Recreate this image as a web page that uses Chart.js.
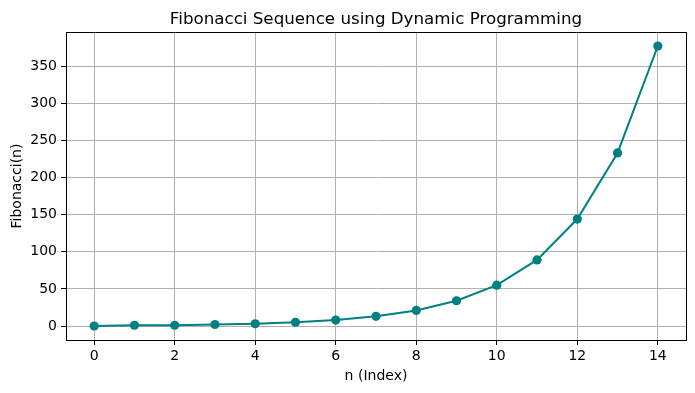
<!DOCTYPE html>
<html>
<head>
<meta charset="utf-8">
<script src="https://cdn.jsdelivr.net/npm/chart.js@4/dist/chart.umd.min.js"></script>
<style>
  html, body { margin: 0; padding: 0; background: #fff; }
  #wrap { width: 695px; height: 393px; }
</style>
</head>
<body>
<div id="wrap"><canvas id="fibChart" width="695" height="393"></canvas></div>
<script>
// data
const nIndex = [0, 1, 2, 3, 4, 5, 6, 7, 8, 9, 10, 11, 12, 13, 14];
const fibValues = [0, 1, 1, 2, 3, 5, 8, 13, 21, 34, 55, 89, 144, 233, 377];
const xTicks = [0, 2, 4, 6, 8, 10, 12, 14];
const yTicks = [0, 50, 100, 150, 200, 250, 300, 350];

const titleText = "Fibonacci Sequence using Dynamic Programming";
const xLabel = "n (Index)";
const yLabel = "Fibonacci(n)";

const fontFam = "'DejaVu Sans', sans-serif";

// kotak hitam + judul di tengah area plot (gaya matplotlib)
const framePlugin = {
  id: "frame",
  afterDraw(chart) {
    const a = chart.chartArea;
    const ctx = chart.ctx;
    ctx.save();
    ctx.strokeStyle = "#000";
    ctx.lineWidth = 1;
    ctx.strokeRect(Math.round(a.left) + 0.5, Math.round(a.top) + 0.5,
                   Math.round(a.right - a.left), Math.round(a.bottom - a.top));
    ctx.fillStyle = "#000";
    ctx.font = "16.7px " + fontFam;
    ctx.textAlign = "center";
    ctx.textBaseline = "alphabetic";
    ctx.fillText(titleText, (a.left + a.right) / 2, 24);
    ctx.restore();
  }
};

new Chart(document.getElementById("fibChart"), {
  type: "line",
  data: {
    datasets: [{
      data: nIndex.map((n, i) => ({ x: n, y: fibValues[i] })),
      borderColor: "#008080",
      backgroundColor: "#008080",
      borderWidth: 2,
      pointRadius: 4.6,
      pointBorderWidth: 0,
      pointHoverRadius: 4.6,
      tension: 0,
      clip: false
    }]
  },
  options: {
    responsive: false,
    animation: false,
    layout: { padding: { left: 0, right: 9, top: 32, bottom: 0 } },
    plugins: {
      legend: { display: false },
      tooltip: { enabled: false },
      title: { display: false }
    },
    scales: {
      x: {
        type: "linear",
        min: -0.7,
        max: 14.7,
        afterBuildTicks: s => { s.ticks = xTicks.map(v => ({ value: v })); },
        afterFit: s => { s.height = 53; },
        ticks: {
          color: "#000",
          font: { family: fontFam, size: 14 },
          padding: 3,
          maxRotation: 0
        },
        grid: { color: "#b0b0b0", lineWidth: 1, tickColor: "#000", tickLength: 5 },
        border: { color: "#000", width: 1 },
        title: {
          display: true,
          text: xLabel,
          color: "#000",
          font: { family: fontFam, size: 14 },
          padding: { top: 0, bottom: 8 }
        }
      },
      y: {
        type: "linear",
        min: -18.85,
        max: 395.85,
        afterBuildTicks: s => { s.ticks = yTicks.map(v => ({ value: v })); },
        afterFit: s => { s.width = 66; },
        ticks: {
          color: "#000",
          font: { family: fontFam, size: 14 },
          padding: 4
        },
        grid: { color: "#b0b0b0", lineWidth: 1, tickColor: "#000", tickLength: 5 },
        border: { color: "#000", width: 1 },
        title: {
          display: true,
          text: yLabel,
          color: "#000",
          font: { family: fontFam, size: 14 },
          padding: { top: 9, bottom: 0 }
        }
      }
    }
  },
  plugins: [framePlugin]
});
</script>
</body>
</html>
